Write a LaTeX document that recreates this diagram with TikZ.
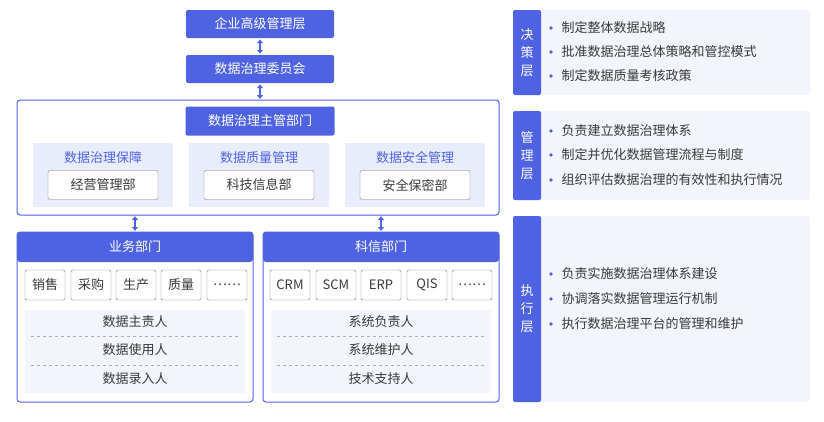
\documentclass[tikz,border=0pt]{standalone}
\usepackage{fontspec}
\setmainfont{Noto Sans CJK SC}
\usetikzlibrary{positioning,arrows.meta}
\definecolor{mainblue}{HTML}{4F62E2}
\definecolor{lightblue}{HTML}{E9ECFB}
\definecolor{paleblue}{HTML}{F3F5FD}
\definecolor{darktext}{HTML}{3A3A3A}
\tikzset{
  head/.style={fill=mainblue,text=white,rounded corners=2pt,font=\fontsize{13}{13}\selectfont},
  frame/.style={draw=mainblue,line width=1pt,rounded corners=3pt},
  item/.style={draw=darktext!70,fill=white,rounded corners=2pt,font=\fontsize{13}{13}\selectfont,text=darktext},
  biarrow/.style={{Latex[length=4pt,width=7pt]}-{Latex[length=4pt,width=7pt]},mainblue,line width=2.5pt,shorten <=1pt,shorten >=1pt},
  tip/.style={fill=mainblue,circle,inner sep=1.3pt}
}
\begin{document}
\begin{tikzpicture}[x=1pt,y=-1pt]
\useasboundingbox (0,0) rectangle (824,421);
% top chain
\node[head,minimum width=148pt,minimum height=28pt] (top) at (260,24) {企业高级管理层};
\node[head,minimum width=148pt,minimum height=28pt] (comm) at (260,69) {数据治理委员会};
\draw[biarrow] (top.south) -- (comm.north);
% governing department
\draw[frame] (17,100) rectangle (499,215);
\coordinate (gtop) at (260,100);
\draw[biarrow] (comm.south) -- (gtop);
\node[head,minimum width=149pt,minimum height=29pt] (lead) at (260,121) {数据治理主管部门};
\foreach \cx/\name/\lab/\dept in {103/ga/数据治理保障/经营管理部, 259/gb/数据质量管理/科技信息部, 415/gc/数据安全管理/安全保密部}{
  \fill[lightblue] (\cx-70,143) rectangle (\cx+70,207);
  \node[text=mainblue,font=\fontsize{13}{13}\selectfont] at (\cx,158) {\lab};
  \node[item,minimum width=110pt,minimum height=29pt] (\name) at (\cx,185) {\dept};
}
% business and IT departments
\foreach \x/\name/\title in {17/biz/业务部门, 263/it/科信部门}{
  \draw[frame] (\x,232) rectangle (\x+236,402);
  \fill[mainblue,rounded corners=3pt] (\x,232) rectangle (\x+236,262);
  \node[text=white,font=\fontsize{13}{13}\selectfont] (\name) at (\x+118,247) {\title};
  \fill[paleblue] (\x+8,310) rectangle (\x+228,393);
  \draw[dashed,darktext!40] (\x+14,336) -- (\x+222,336);
  \draw[dashed,darktext!40] (\x+14,365) -- (\x+222,365);
}
\draw[biarrow] (135,215) -- (135,232);
\draw[biarrow] (381,215) -- (381,232);
\foreach \cx/\lab in {45/销售,91/采购,136/生产,181/质量,227/……,290/CRM,336/SCM,381/ERP,427/QIS,472/……}
  \node[item,minimum width=40pt,minimum height=30pt,inner sep=1pt] at (\cx,285) {\lab};
\foreach \y/\la/\lb in {322/数据主责人/系统负责人, 350/数据使用人/系统维护人, 379/数据录入人/技术支持人}{
  \node[text=darktext,font=\fontsize{13}{13}\selectfont] at (135,\y) {\la};
  \node[text=darktext,font=\fontsize{13}{13}\selectfont] at (381,\y) {\lb};
}
% layer panels
\foreach \ya/\yb/\lab in {10/95/决\\策\\层, 111/200/管\\理\\层, 216/402/执\\行\\层}{
  \fill[paleblue,rounded corners=3pt] (513,\ya) rectangle (810,\yb);
  \fill[mainblue,rounded corners=2pt] (513,\ya) rectangle (541,\yb);
  \node[text=white,align=center,font=\fontsize{13}{18}\selectfont] at (527,{(\ya+\yb)/2}) {\lab};
}
\foreach \y/\txt in {28/制定整体数据战略, 52/批准数据治理总体策略和管控模式, 76/制定数据质量考核政策,
  131/负责建立数据治理体系, 155/制定并优化数据管理流程与制度, 180/组织评估数据治理的有效性和执行情况,
  274/负责实施数据治理体系建设, 299/协调落实数据管理运行机制, 324/执行数据治理平台的管理和维护}{
  \node[tip] at (551,\y) {};
  \node[anchor=west,text=darktext,font=\fontsize{13}{13}\selectfont] at (558,\y) {\txt};
}
\end{tikzpicture}
\end{document}
